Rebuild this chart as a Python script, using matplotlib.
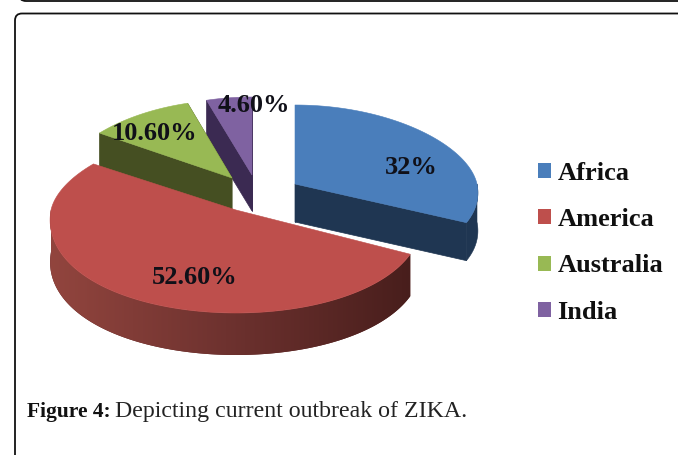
import numpy as np
import matplotlib
matplotlib.use("Agg")
import matplotlib.pyplot as plt
from matplotlib.colors import LinearSegmentedColormap
from matplotlib.patches import FancyBboxPatch, Polygon, Rectangle

categories = ["Africa", "America", "Australia", "India"]
values = [32, 52.6, 10.6, 4.6]
value_labels = ["32%", "52.60%", "10.60%", "4.60%"]

top_colors = ["#4A7EBB", "#BE4F4C", "#98B954", "#7F62A1"]
wall_colors = ["#1F3652", "#5A211F", "#454F22", "#3B2A52"]
# layout of each exploded slice: apex x, apex y, rx, ry back, ry front, depth
geometry = [(295, 184, 182, 79, 90, 38),
            (236, 210, 185, 80, 103, 42),
            (232, 178, 172, 78, 90, 35),
            (252, 175, 176, 78, 90, 36)]
label_pos = [(411, 168), (195, 278), (155, 133), (254, 106)]
draw_order = [3, 2, 0, 1]
P = 0.1

fig = plt.figure(figsize=(6.78, 4.55), dpi=100)
ax = fig.add_axes([0, 0, 1, 1])
ax.set_xlim(0, 678)
ax.set_ylim(455, 0)
ax.axis("off")

SERIF = "Liberation Serif"
red_rim = LinearSegmentedColormap.from_list("rim", ["#94463F", "#6E322F", "#481E1C"])

# page frames
ax.add_patch(FancyBboxPatch((15, 13.5), 800, 600, boxstyle="round,pad=0,rounding_size=7",
                            fc="white", ec="#111111", lw=1.3))
ax.add_patch(FancyBboxPatch((19, -40), 800, 41, boxstyle="round,pad=0,rounding_size=7",
                            fc="white", ec="#111111", lw=1.3))

total = sum(values)
edges = np.concatenate([[0], np.cumsum(values)]) / total * 2 * np.pi


def pt(theta, g):
    cx, cy, rx, ryb, ryf, _ = g
    s, c = np.sin(theta), np.cos(theta)
    x = cx + rx * (1 - P * c) * s
    y = cy - (ryb * c if c > 0 else ryf * c)
    return x, y


for i in draw_order:
    g = geometry[i]
    t0, t1 = edges[i], edges[i + 1]
    d = g[5]
    ths = np.linspace(t0, t1, 200)
    arc = np.array([pt(t, g) for t in ths])
    apex = np.array(g[:2], dtype=float)
    # radial walls
    if i != 1:
        for end in (arc[0], arc[-1]):
            q = [apex, end, end + [0, d], apex + [0, d]]
            ax.add_patch(Polygon(q, fc=wall_colors[i], ec=wall_colors[i], lw=0.5))
    # rim: only the part that faces the viewer
    lo, hi = max(t0, np.pi / 2), min(t1, 3 * np.pi / 2)
    if hi > lo:
        front = np.array([pt(t, g) for t in np.linspace(lo, hi, 200)])
        rim = Polygon(np.vstack([front, front[::-1] + [0, d]]),
                      fc=wall_colors[i], ec="none" if i == 1 else wall_colors[i], lw=0.4)
        ax.add_patch(rim)
        if i == 1:
            im = ax.imshow(np.linspace(0, 1, 256).reshape(1, -1), cmap=red_rim, aspect="auto",
                           extent=(40, 412, 400, 150), zorder=rim.get_zorder())
            im.set_clip_path(rim)
            ax.set_xlim(0, 678)
            ax.set_ylim(455, 0)
    # top face
    ax.add_patch(Polygon(np.vstack([apex, arc]), fc=top_colors[i], ec=top_colors[i], lw=0.4, zorder=2))

for (x, y), s in zip(label_pos, value_labels):
    ax.text(x, y, s, ha="center", va="center", family=SERIF, weight="bold",
            fontsize=19, color="#101018", zorder=5)

# legend
handles = [Rectangle((0, 0), 1, 1, fc=c, ec="none") for c in top_colors]
leg = ax.legend(handles, categories, loc="upper left", bbox_to_anchor=(538 / 678, 1 - 162 / 455),
                frameon=False, handlelength=0.5, handleheight=0.5, handletextpad=0.23,
                labelspacing=0.88, borderpad=0, borderaxespad=0,
                prop={"family": SERIF, "weight": "bold", "size": 19})
for t in leg.get_texts():
    t.set_color("#101010")

# caption
ax.text(27, 417, "Figure 4:", family=SERIF, weight="bold", fontsize=15.5,
        color="#111111", ha="left", va="baseline")
ax.text(115, 417, "Depicting current outbreak of ZIKA.", family=SERIF, fontsize=17.2,
        color="#222222", ha="left", va="baseline")

fig.savefig("out.png", dpi=100, facecolor="white")
